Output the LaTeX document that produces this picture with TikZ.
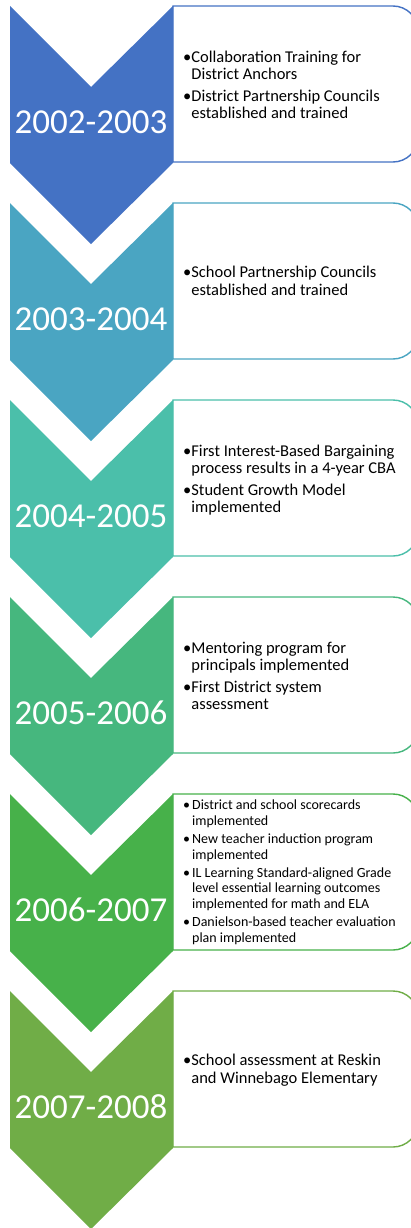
\documentclass[tikz,border=0pt]{standalone}
\usepackage{fontspec}
\setmainfont{Carlito}
\definecolor{c1}{HTML}{4472C4}
\definecolor{c2}{HTML}{4AA5C2}
\definecolor{c3}{HTML}{4BBFAA}
\definecolor{c4}{HTML}{46B77E}
\definecolor{c5}{HTML}{47B14A}
\definecolor{c6}{HTML}{70AD47}
\tikzset{
  yearlbl/.style={text=white,font=\fontsize{35}{40}\selectfont,inner sep=0pt,anchor=center},
  itemtxt/.style={text=black,font=\fontsize{16.5}{17.2}\selectfont,inner sep=0pt,anchor=west,align=left},
  itemsmall/.style={text=black,font=\fontsize{14}{15.6}\selectfont,inner sep=0pt,anchor=west,align=left},
  boxline/.style={line width=1.4pt,fill=white,rounded corners=25pt},
}
\newcommand{\chev}[2]{%
  \fill[#2] (10,-#1) -- (91,-#1-81) -- (173,-#1) -- (173,-#1-157) -- (91,-#1-238) -- (10,-#1-157) -- cycle;}
\newcommand{\tbox}[2]{%
  \draw[boxline,draw=#2] (173,-#1) [sharp corners] -- (200,-#1) [rounded corners=25pt] -- (418,-#1) -- (418,-#1-156) -- (200,-#1-156) [sharp corners] -- (173,-#1-156) -- cycle;}
\begin{document}
\begin{tikzpicture}[x=1pt,y=1pt]
\useasboundingbox (0,0) rectangle (411,-1228);
\clip (0,0) rectangle (411,-1228);
% boxes
\tbox{6}{c1}
\tbox{203}{c2}
\tbox{400}{c3}
\tbox{597}{c4}
\tbox{794}{c5}
\tbox{991}{c6}
% chevrons
\chev{6}{c1}
\chev{203}{c2}
\chev{400}{c3}
\chev{597}{c4}
\chev{794}{c5}
\chev{991}{c6}
% years
\node[yearlbl] (y1) at (91,-122) {2002-2003};
\node[yearlbl] (y2) at (91,-319) {2003-2004};
\node[yearlbl] (y3) at (91,-516) {2004-2005};
\node[yearlbl] (y4) at (91,-713) {2005-2006};
\node[yearlbl] (y5) at (91,-910) {2006-2007};
\node[yearlbl] (y6) at (91,-1107) {2007-2008};
% texts
\node[itemtxt] (t1) at (183,-87) {\begin{tabular}{@{}l@{}l@{}}•&Collaboration Training for\\ &District Anchors\\[4pt]•&District Partnership Councils\\ &established and trained\end{tabular}};
\node[itemtxt] (t2) at (183,-283) {\begin{tabular}{@{}l@{}l@{}}•&School Partnership Councils\\ &established and trained\end{tabular}};
\node[itemtxt] (t3) at (183,-481) {\begin{tabular}{@{}l@{}l@{}}•&First Interest-Based Bargaining\\ &process results in a 4-year CBA\\[4pt]•&Student Growth Model\\ &implemented\end{tabular}};
\node[itemtxt] (t4) at (183,-678) {\begin{tabular}{@{}l@{}l@{}}•&Mentoring program for\\ &principals implemented\\[4pt]•&First District system\\ &assessment\end{tabular}};
\node[itemsmall] (t5) at (183,-873) {\begin{tabular}{@{}l@{\hspace{2pt}}l@{}}•&District and school scorecards\\ &implemented\\[2.5pt]•&New teacher induction program\\ &implemented\\[2.5pt]•&IL Learning Standard-aligned Grade\\ &level essential learning outcomes\\ &implemented for math and ELA\\[2.5pt]•&Danielson-based teacher evaluation\\ &plan implemented\end{tabular}};
\node[itemtxt] (t6) at (183,-1071) {\begin{tabular}{@{}l@{}l@{}}•&School assessment at Reskin\\ &and Winnebago Elementary\end{tabular}};
\end{tikzpicture}
\end{document}
